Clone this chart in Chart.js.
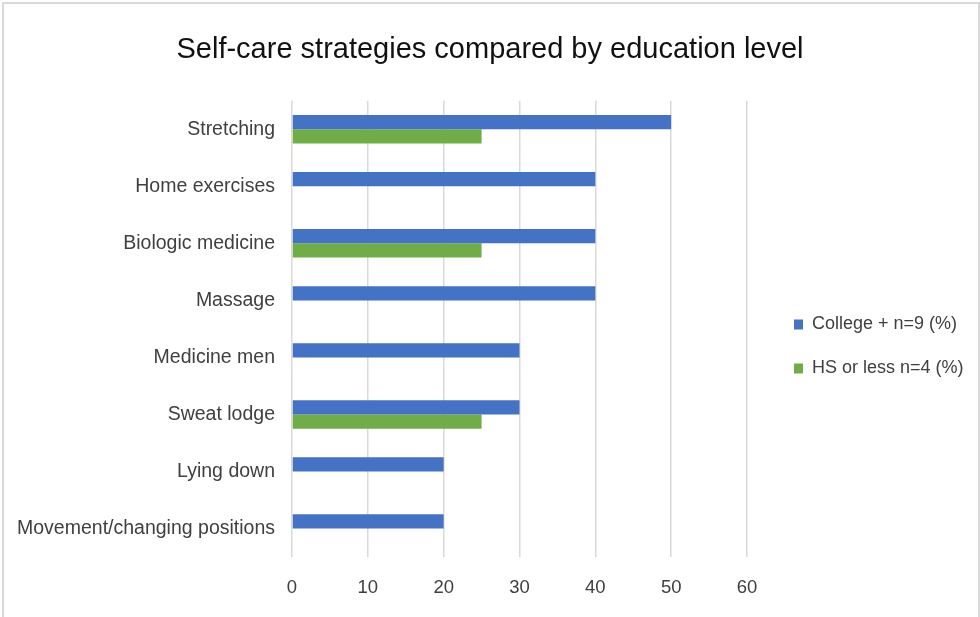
<!DOCTYPE html>
<html>
<head>
<meta charset="utf-8">
<script src="https://cdn.jsdelivr.net/npm/chart.js@4.4.1/dist/chart.umd.min.js"></script>
<style>
  html, body { margin: 0; padding: 0; background: #fff; }
  #wrap { position: relative; width: 980px; height: 617px; overflow: hidden; }
  #frame { position: absolute; left: 2px; top: 2px; width: 978px; height: 640px; box-sizing: border-box;
           border: 2px solid #D9D9D9; pointer-events: none; }
  canvas { display: block; }
</style>
</head>
<body>
<div id="wrap">
  <canvas id="c" width="980" height="617"></canvas>
  <div id="frame"></div>
</div>
<script>
// ---- data ----
const chartTitle = 'Self-care strategies compared by education level';
const categories = [
  'Stretching',
  'Home exercises',
  'Biologic medicine',
  'Massage',
  'Medicine men',
  'Sweat lodge',
  'Lying down',
  'Movement/changing positions'
];
const seriesNames = ['College + n=9 (%)', 'HS or less n=4 (%)'];
const collegeValues = [50, 40, 40, 40, 30, 30, 20, 20];
const hsValues = [25, 0, 25, 0, 0, 25, 0, 0];
const xMin = 0, xMax = 60, xStep = 10;

// ---- styling ----
const FONT = "'Liberation Sans', Arial, sans-serif";
const BLUE = '#4472C4';
const GREEN = '#70AD47';

const legendTweak = {
  id: 'legendTweak',
  beforeLayout(chart) {
    const lg = chart.legend;
    if (lg && !lg._wrapped) {
      const origFit = lg.fit.bind(lg);
      lg.fit = function () { origFit(); this.width = 233; };
      lg._wrapped = true;
    }
  },
  afterLayout(chart) {
    const lg = chart.legend;
    if (lg) {
      lg.left += 21;
      lg.top += 47;
      lg.bottom += 47;
    }
  }
};

new Chart(document.getElementById('c'), {
  type: 'bar',
  data: {
    labels: categories,
    datasets: [
      { label: seriesNames[0], data: collegeValues, backgroundColor: BLUE, borderWidth: 0 },
      { label: seriesNames[1], data: hsValues, backgroundColor: GREEN, borderWidth: 0 }
    ]
  },
  options: {
    indexAxis: 'y',
    responsive: false,
    animation: false,
    devicePixelRatio: 1,
    layout: { padding: { left: 0, right: 0, top: 0, bottom: 18 } },
    datasets: { bar: { categoryPercentage: 0.5, barPercentage: 1.0 } },
    plugins: {
      title: {
        display: true,
        text: chartTitle,
        color: '#111111',
        font: { family: FONT, size: 29, weight: 'normal' },
        padding: { top: 33, bottom: 33 }
      },
      legend: {
        display: true,
        position: 'right',
        labels: {
          color: '#404040',
          font: { family: FONT, size: 18 },
          boxWidth: 9,
          boxHeight: 10,
          padding: 26
        }
      },
      tooltip: { enabled: false }
    },
    scales: {
      x: {
        min: xMin,
        max: xMax,
        ticks: { stepSize: xStep, color: '#404040', font: { family: FONT, size: 18.5 }, padding: 20 },
        grid: { color: '#D9D9D9', lineWidth: 1.5, drawTicks: false },
        border: { display: false },
        afterFit(scale) { scale.height = 42; }
      },
      y: {
        ticks: { color: '#404040', font: { family: FONT, size: 19.5 }, padding: 17 },
        grid: { display: false, drawTicks: false },
        border: { display: false },
        afterFit(scale) { scale.width = 292; }
      }
    }
  },
  plugins: [legendTweak]
});
</script>
</body>
</html>
